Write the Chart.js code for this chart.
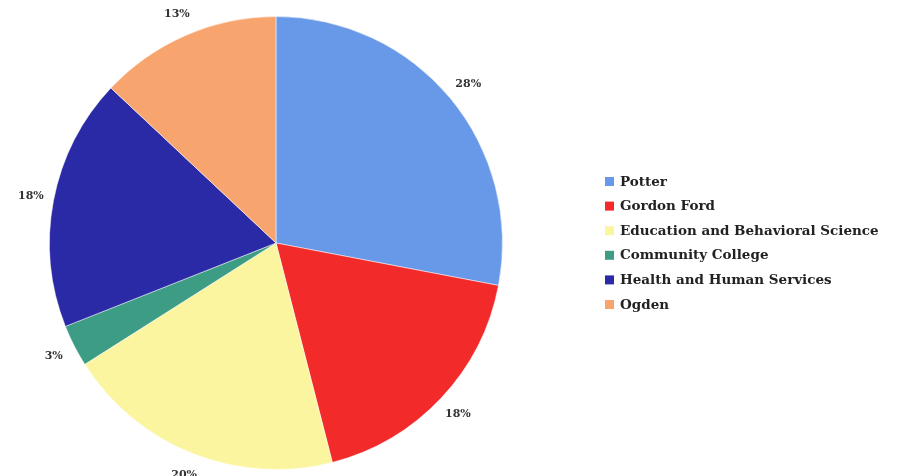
<!DOCTYPE html>
<html>
<head>
<meta charset="utf-8">
<script src="https://cdn.jsdelivr.net/npm/chart.js@4/dist/chart.umd.min.js"></script>
<style>
  html, body { margin: 0; padding: 0; background: #fff; }
  #wrap { position: relative; width: 897px; height: 476px; }
</style>
</head>
<body>
<div id="wrap"><canvas id="pieChart" width="897" height="476"></canvas></div>
<script>
const colleges = ['Potter', 'Gordon Ford', 'Education and Behavioral Science', 'Community College', 'Health and Human Services', 'Ogden'];
const shares = [28, 18, 20, 3, 18, 13];
const sliceColors = ['#6898e8', '#f22a2a', '#fbf5a0', '#3d9c84', '#2a2aa6', '#f8a46e'];

const serif = '"DejaVu Serif", "Liberation Serif", serif';

// percent labels outside each slice + legend on the right
const labelsAndLegend = {
  id: 'labelsAndLegend',
  afterDraw(chart) {
    const ctx = chart.ctx;
    const arcs = chart.getDatasetMeta(0).data;
    ctx.save();
    ctx.fillStyle = '#333';
    ctx.font = 'bold 11px ' + serif;
    ctx.textAlign = 'center';
    ctx.textBaseline = 'middle';
    arcs.forEach((arc, i) => {
      const { x, y, startAngle, endAngle, outerRadius } = arc.getProps(['x', 'y', 'startAngle', 'endAngle', 'outerRadius'], true);
      const mid = (startAngle + endAngle) / 2;
      const r = outerRadius + 23;
      ctx.fillText(shares[i] + '%', x + Math.cos(mid) * r, y + Math.sin(mid) * r);
    });

    // legend
    ctx.textAlign = 'left';
    ctx.font = 'bold 13.5px ' + serif;
    colleges.forEach((name, i) => {
      const top = 177 + i * 24.6;
      ctx.fillStyle = sliceColors[i];
      ctx.fillRect(605, top, 9, 9);
      ctx.fillStyle = '#222';
      ctx.fillText(name, 620, top + 5);
    });
    ctx.restore();
  }
};

new Chart(document.getElementById('pieChart'), {
  type: 'pie',
  data: {
    labels: colleges,
    datasets: [{
      data: shares,
      backgroundColor: sliceColors,
      borderColor: 'rgba(255,255,255,0.5)',
      borderWidth: 1
    }]
  },
  options: {
    responsive: false,
    animation: false,
    layout: { padding: { left: 49, right: 394, top: 16, bottom: 6 } },
    plugins: {
      legend: { display: false },
      tooltip: { enabled: false }
    }
  },
  plugins: [labelsAndLegend]
});
</script>
</body>
</html>
